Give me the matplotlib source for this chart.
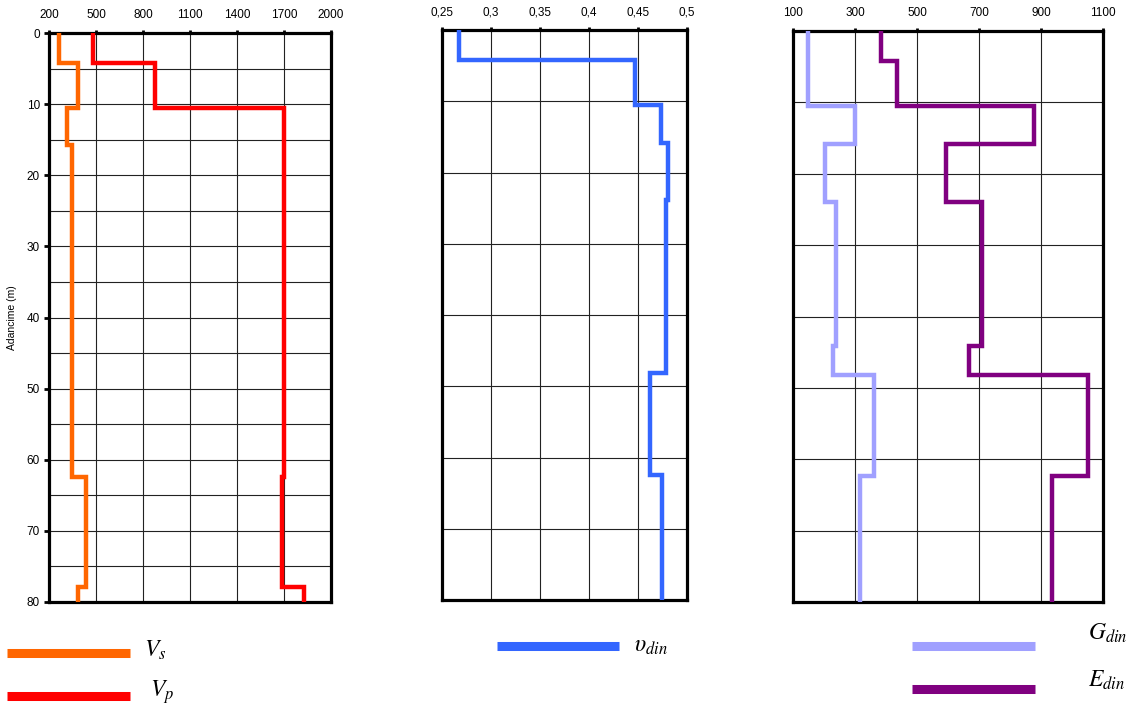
import numpy as np
import matplotlib.pyplot as plt
from matplotlib.lines import Line2D

plt.rcParams['font.family'] = ['Liberation Sans', 'DejaVu Sans']
plt.rcParams['mathtext.fontset'] = 'stix'

# Layer boundaries (depth, m) shared by all profiles
depth_edges = [0, 4.2, 10.5, 15.8, 23.9, 44.2, 48.2, 62.4, 77.9, 80]

# Wave velocities per layer (m/s)
vs = [266, 387, 313, 345, 345, 345, 345, 434, 387]
vp = [483, 876, 1702, 1702, 1702, 1702, 1702, 1685, 1827]

# Dynamic Poisson ratio per layer
nu_din = [0.267, 0.447, 0.473, 0.481, 0.479, 0.479, 0.4625, 0.474, 0.474]

# Dynamic moduli per layer (MPa)
g_din = [148, 148, 299, 202, 238, 229, 361, 317, 317]
e_din = [385, 437, 877, 593, 710, 668, 1052, 937, 937]

vel_ticks = [200, 500, 800, 1100, 1400, 1700, 2000]
nu_ticks = [0.25, 0.3, 0.35, 0.4, 0.45, 0.5]
nu_labels = ['0,25', '0,3', '0,35', '0,4', '0,45', '0,5']
mod_ticks = [100, 300, 500, 700, 900, 1100]
depth_ticks = [0, 10, 20, 30, 40, 50, 60, 70, 80]

fig = plt.figure(figsize=(11.32, 7.08), dpi=100)
W, H = 1132, 708


def px_axes(left, top, right, bottom):
    return fig.add_axes([left / W, 1 - bottom / H, (right - left) / W, (bottom - top) / H])


def style_axes(ax, xticks, xlim, hgrid_step, labels=None):
    ax.set_xlim(*xlim)
    ax.set_ylim(80, 0)
    ax.xaxis.tick_top()
    ax.set_xticks(xticks)
    if labels is not None:
        ax.set_xticklabels(labels)
    ax.tick_params(axis='x', which='major', length=2.5, width=2, pad=5.8, labelsize=8.5, direction='out')
    for s in ax.spines.values():
        s.set_linewidth(2.3)
        s.set_color('black')
    # gridlines inside the frame
    for x in xticks[1:-1]:
        ax.axvline(x, color='#222222', lw=0.8, zorder=1)
    for y in np.arange(hgrid_step, 80, hgrid_step):
        ax.axhline(y, color='#222222', lw=0.8, zorder=1)


def draw_profile(ax, values, color):
    st = ax.stairs(values, depth_edges, baseline=None, orientation='horizontal',
                   color=color, lw=3.2, zorder=3)
    # square off the corners of the step path
    st.set_joinstyle('miter')
    st.set_capstyle('butt')


# Velocities
ax1 = px_axes(49, 33, 331, 602)
style_axes(ax1, vel_ticks, (200, 2000), 5)
ax1.set_yticks(depth_ticks)
ax1.tick_params(axis='y', length=3.5, width=2, pad=3, labelsize=8.5)
ax1.set_ylabel('Adancime (m)', fontsize=7.5, labelpad=7)
draw_profile(ax1, vs, '#FF6600')
draw_profile(ax1, vp, '#FF0000')

# Poisson ratio
ax2 = px_axes(442, 30, 687, 600)
style_axes(ax2, nu_ticks, (0.25, 0.5), 10, nu_labels)
ax2.set_yticks([])
draw_profile(ax2, nu_din, '#3366FF')

# Dynamic moduli
ax3 = px_axes(793, 31, 1103, 602)
style_axes(ax3, mod_ticks, (100, 1100), 10)
ax3.set_yticks([])
draw_profile(ax3, g_din, '#A0A0FF')
draw_profile(ax3, e_din, '#800080')

# Legend swatches and labels below the panels
legend = [
    ('#FF6600', 7, 130, 653, r'$V_s$', 144, 657),
    ('#FF0000', 7, 130, 696, r'$V_p$', 150, 697),
    ('#3366FF', 497, 619, 646, r'$\upsilon_{din}$', 634, 652),
    ('#A0A0FF', 912, 1035, 646, r'$G_{din}$', 1088, 640),
    ('#800080', 912, 1035, 689, r'$E_{din}$', 1088, 687),
]
for color, x0, x1, y, label, tx, ty in legend:
    fig.add_artist(Line2D([x0 / W, x1 / W], [1 - y / H, 1 - y / H],
                          transform=fig.transFigure, color=color, lw=6.5,
                          solid_capstyle='butt'))
    fig.text(tx / W, 1 - ty / H, label, fontsize=17, ha='left', va='baseline')

fig.savefig('out.png', dpi=100)
